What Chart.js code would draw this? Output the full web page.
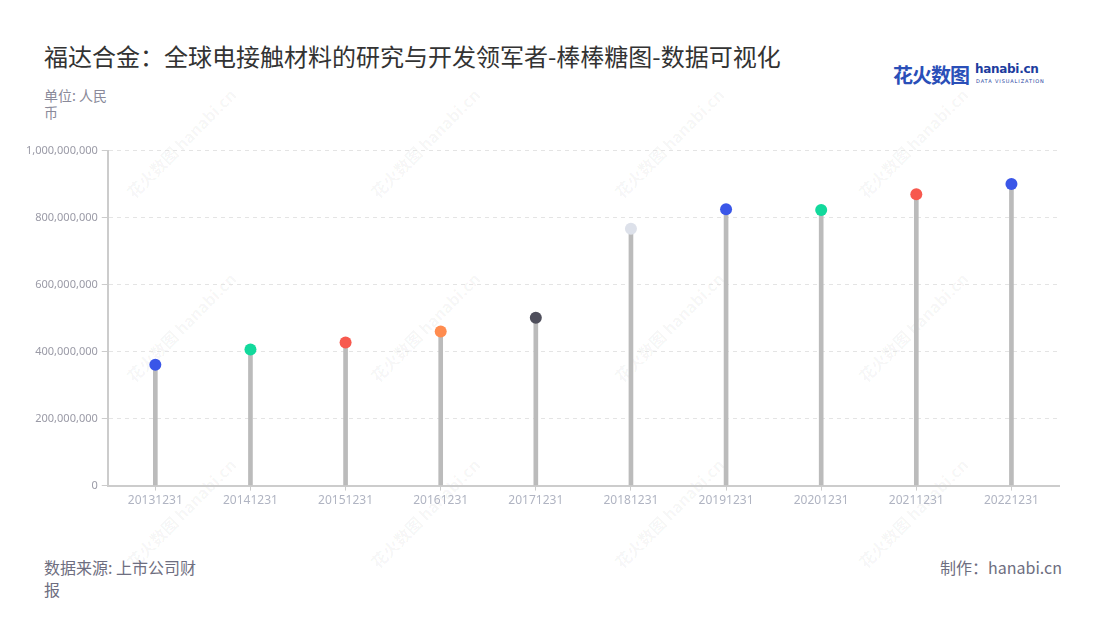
<!DOCTYPE html>
<html>
<head>
<meta charset="utf-8">
<script src="https://cdn.jsdelivr.net/npm/chart.js@4/dist/chart.umd.min.js"></script>
<style>
  body { margin: 0; width: 1100px; height: 620px; background: #fff; overflow: hidden;
         font-family: "Noto Sans CJK SC", "Noto Sans", sans-serif; position: relative; }
  #title { position: absolute; left: 44px; top: 38px; font-size: 24px; color: #333; white-space: nowrap; }
  #unit { position: absolute; left: 44px; top: 87px; width: 70px; font-size: 14px; line-height: 17px; color: #8a8a9a; }
  #source { position: absolute; left: 44px; top: 556px; width: 165px; font-size: 16px; line-height: 22px; color: #6e6e80; }
  #maker { position: absolute; right: 38px; top: 556px; font-size: 16px; line-height: 22px; color: #6e6e80; }
  #logo { position: absolute; left: 893px; top: 60px; white-space: nowrap; }
  #logo .cn { font-size: 20px; font-weight: bold; color: #2a4fb8; letter-spacing: -1px; }
  #logo .en { position: absolute; left: 82px; top: 2px; font-family: "DejaVu Sans", sans-serif; font-size: 12px; font-weight: bold; color: #1d3d9e; letter-spacing: -0.3px; }
  #logo .sub { position: absolute; left: 83px; top: 18px; font-family: "DejaVu Sans", sans-serif; font-size: 5px; color: #1d3d9e; letter-spacing: 0.9px; }
  .wm { position: absolute; transform: rotate(-45deg); transform-origin: center; white-space: nowrap;
        font-size: 16px; font-weight: bold; color: rgba(0,0,0,0.045); }
  #wrap { position: absolute; left: 22px; top: 140px; width: 1043px; height: 371px; }
</style>
</head>
<body>
<div id="title">福达合金：全球电接触材料的研究与开发领军者-棒棒糖图-数据可视化</div>
<div id="unit">单位: 人民币</div>
<div id="logo"><span class="cn">花火数图</span><span class="en">hanabi.cn</span><span class="sub">DATA VISUALIZATION</span></div>
<div id="wm"></div>
<div id="wrap"><canvas id="chart"></canvas></div>
<div id="source">数据来源: 上市公司财报</div>
<div id="maker">制作：hanabi.cn</div>
<script>
const dates = ['20131231', '20141231', '20151231', '20161231', '20171231',
               '20181231', '20191231', '20201231', '20211231', '20221231'];
const revenue = [361e6, 406e6, 427e6, 460e6, 501e6, 767e6, 825e6, 823e6, 870e6, 900e6];
const dotColors = ['#3a56e8', '#12d99c', '#f7594e', '#ff8c4f', '#4f4f5c',
                   '#dde1ea', '#3a56e8', '#12d99c', '#f7594e', '#3a56e8'];

// faint watermark grid
const wmBox = document.getElementById('wm');
[143, 327, 513].forEach(cy => {
  [183, 427, 671, 915].forEach(cx => {
    const s = document.createElement('div');
    s.className = 'wm';
    s.textContent = '花火数图 hanabi.cn';
    s.style.left = (cx - 75) + 'px';
    s.style.top = (cy - 12) + 'px';
    wmBox.appendChild(s);
  });
});

const ctx = document.getElementById('chart').getContext('2d');
new Chart(ctx, {
  data: {
    labels: dates,
    datasets: [
      {
        type: 'line',
        data: revenue,
        showLine: false,
        pointRadius: 6,
        pointHoverRadius: 6,
        pointBorderWidth: 0,
        pointBackgroundColor: dotColors,
        order: 0
      },
      {
        type: 'bar',
        data: revenue,
        backgroundColor: '#bbbbbb',
        barThickness: 4,
        order: 1
      }
    ]
  },
  options: {
    responsive: true,
    maintainAspectRatio: false,
    animation: false,
    layout: { padding: { top: 0, right: 2, bottom: 0, left: 0 } },
    plugins: { legend: { display: false }, tooltip: { enabled: false } },
    scales: {
      x: {
        offset: true,
        grid: { offset: false, drawOnChartArea: false, tickLength: 5, color: '#cccccc' },
        border: { color: '#cccccc', width: 2 },
        ticks: { color: '#b0b4c2', font: { family: 'Noto Sans', size: 12 }, padding: 3, maxRotation: 0 }
      },
      y: {
        min: 0,
        max: 1e9,
        ticks: {
          stepSize: 2e8,
          color: '#9a9aa6',
          font: { family: 'Noto Sans', size: 11 },
          padding: 4,
          callback: v => v.toLocaleString('en-US')
        },
        grid: { color: '#e4e4e4', tickLength: 6, tickColor: '#cccccc', lineWidth: 1 },
        border: { color: '#cccccc', width: 2, dash: [4, 4] }
      }
    }
  }
});
</script>
</body>
</html>
